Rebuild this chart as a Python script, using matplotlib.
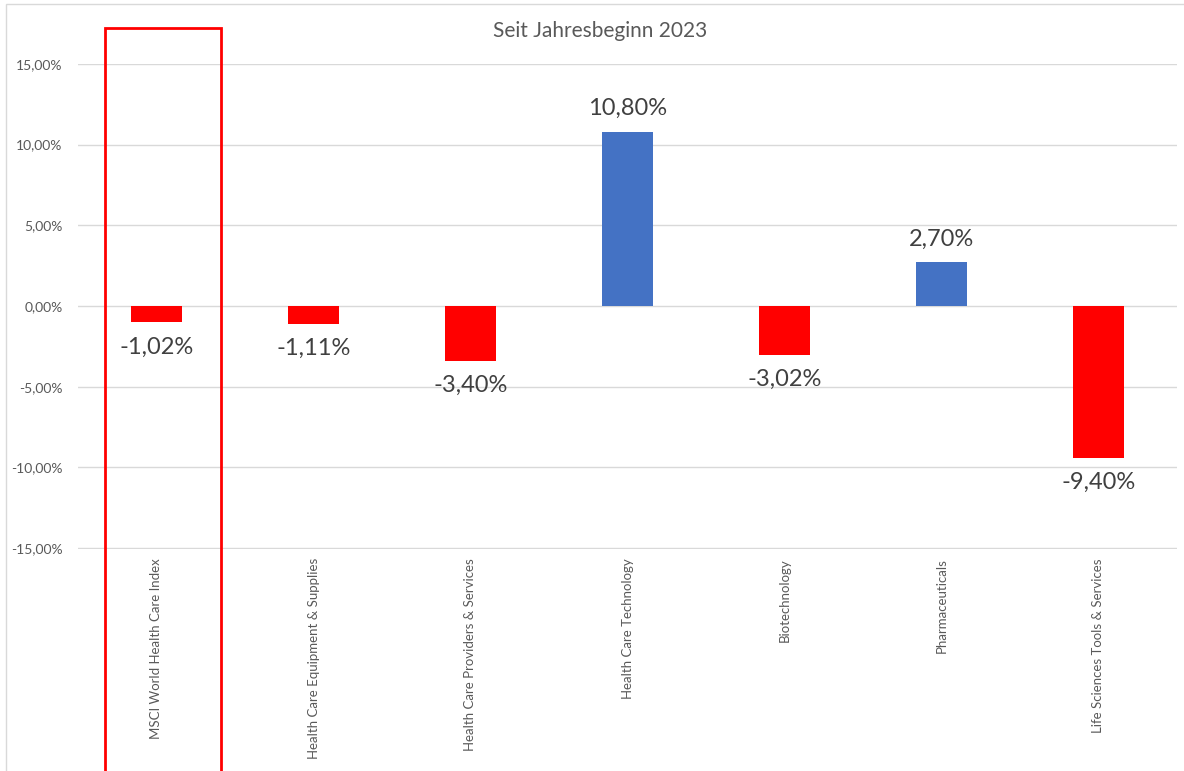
import matplotlib.pyplot as plt
from matplotlib.patches import Rectangle
from matplotlib.ticker import FuncFormatter

plt.rcParams['font.family'] = ['Lato', 'DejaVu Sans']

# data
categories = ["MSCI World Health Care Index", "Health Care Equipment & Supplies",
              "Health Care Providers & Services", "Health Care Technology",
              "Biotechnology", "Pharmaceuticals", "Life Sciences Tools & Services"]
values = [-1.02, -1.11, -3.40, 10.80, -3.02, 2.70, -9.40]
title = "Seit Jahresbeginn 2023"

W, H = 1184, 771
fig = plt.figure(figsize=(W / 100, H / 100), dpi=100)
ax = fig.add_axes([78 / W, 1 - 548.5 / H, (1177 - 78) / W, (548.5 - 63.5) / H])

colors = ['#FF0000' if v < 0 else '#4472C4' for v in values]
x = list(range(len(values)))
ax.bar(x, values, width=0.32, color=colors, zorder=3)

for xi, v in zip(x, values):
    lab = f"{v:.2f}%".replace('.', ',')
    if v < 0:
        ax.annotate(lab, (xi, v), xytext=(0, -10), textcoords='offset points',
                    ha='center', va='top', fontsize=17, color='#404040')
    else:
        ax.annotate(lab, (xi, v), xytext=(0, 9), textcoords='offset points',
                    ha='center', va='bottom', fontsize=17, color='#404040')

ax.set_xlim(-0.5, len(values) - 0.5)
ax.set_ylim(-15.03, 15.03)
ax.set_yticks(range(-15, 16, 5))
ax.yaxis.set_major_formatter(FuncFormatter(lambda v, p: f"{v:.2f}%".replace('.', ',')))
ax.grid(axis='y', color='#d9d9d9', linewidth=1, zorder=0)
for s in ax.spines.values():
    s.set_visible(False)
ax.tick_params(axis='y', length=0, pad=11, labelsize=10, labelcolor='#595959')
ax.tick_params(axis='x', length=0, pad=7)
ax.set_xticks(x)
ax.set_xticklabels(categories, rotation=90, ha='center', va='top',
                   fontsize=9.5, color='#595959')

fig.text(600 / W, 1 - 31 / H, title, ha='center', va='center',
         fontsize=15, color='#595959')

# red highlight box around first category
ax.add_patch(Rectangle((-0.325, -40), 0.735, 57.2, fill=False,
                       edgecolor='#FF0000', linewidth=2, clip_on=False, zorder=5))

# outer chart border
fig.add_artist(Rectangle((6 / W, -0.1), 1.2, 1 - 4 / H + 0.1, transform=fig.transFigure,
                         fill=False, edgecolor='#d9d9d9', linewidth=1))

fig.savefig('out.png', dpi=100)
